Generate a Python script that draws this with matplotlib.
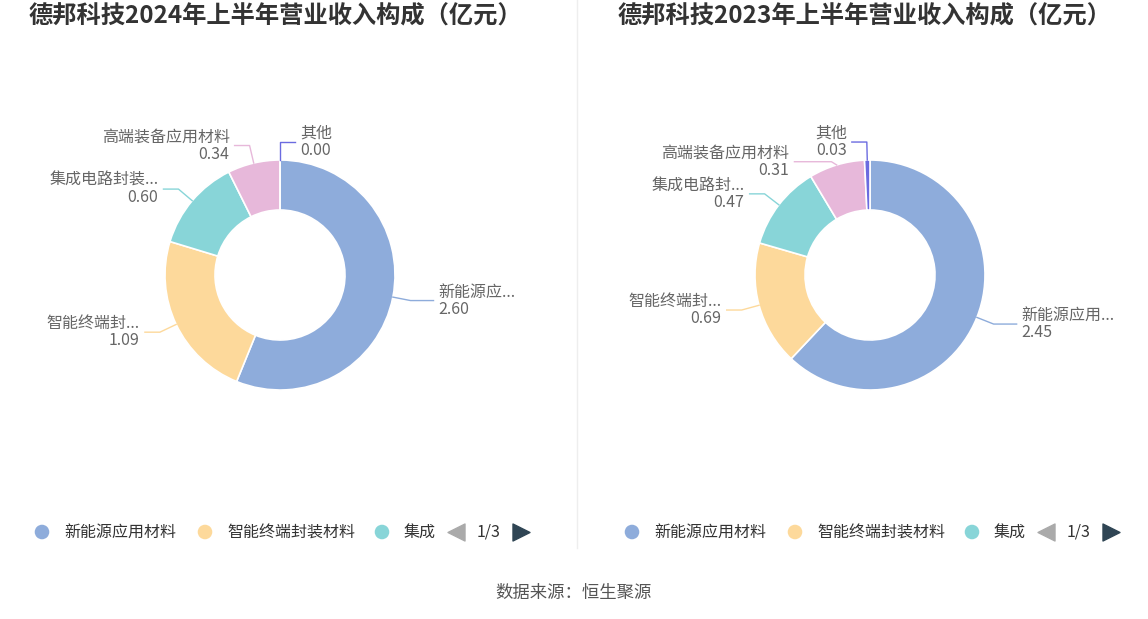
import matplotlib
matplotlib.use("Agg")
import matplotlib.pyplot as plt
import numpy as np

plt.rcParams['font.family'] = ['Noto Sans CJK SC', 'DejaVu Sans']

categories = ["新能源应用材料", "智能终端封装材料", "集成电路封装材料", "高端装备应用材料", "其他"]
short_labels = ["新能源应...", "智能终端封...", "集成电路封装...", "高端装备应用材料", "其他"]
short_labels_r = ["新能源应用...", "智能终端封...", "集成电路封...", "高端装备应用材料", "其他"]
values_2024 = [2.60, 1.09, 0.60, 0.34, 0.00]
values_2023 = [2.45, 0.69, 0.47, 0.31, 0.03]
titles = ["德邦科技2024年上半年营业收入构成（亿元）", "德邦科技2023年上半年营业收入构成（亿元）"]
colors = ["#8eacdb", "#fdd99b", "#88d5d8", "#e7b8da", "#6b6be0"]

W, H = 1148, 619
fig = plt.figure(figsize=(W/100, H/100), dpi=100)
ax = fig.add_axes([0, 0, 1, 1])
ax.set_xlim(0, W); ax.set_ylim(0, H); ax.axis('off')

def Y(y): return H - y

R, IN = 115, 65
# label-layout nudges (vertical px shift, extra horizontal length) to avoid overlap
nudge_l = [(0, 8), (0, 0), (0, 0), (0, 0), (0, 0)]
nudge_r = [(0, 8), (0, 0), (0, 0), (-14, 22), (0, 0)]
for k, (vals, labs, cx, title, nud) in enumerate([(values_2024, short_labels, 280, titles[0], nudge_l),
                                                   (values_2023, short_labels_r, 870, titles[1], nudge_r)]):
    cy = 275
    wedges, _ = ax.pie(vals, colors=colors, startangle=90, counterclock=False,
                       radius=R, center=(cx, Y(cy)),
                       wedgeprops=dict(width=R-IN, edgecolor='white', linewidth=1.2))
    for i, w in enumerate(wedges):
        th = np.deg2rad((w.theta1 + w.theta2) / 2)
        c, s = np.cos(th), np.sin(th)
        x1, y1 = cx + R*c, Y(cy) + R*s
        x2, y2 = cx + (R+18)*c, Y(cy) + (R+18)*s + nud[i][0]
        side = 1 if c >= -1e-6 else -1
        x3 = x2 + side*(15 + nud[i][1])
        ax.plot([x1, x2, x3], [y1, y2, y2], color=colors[i], lw=1)
        ha = 'left' if side > 0 else 'right'
        ax.text(x3 + side*5, y2, f"{labs[i]}\n{vals[i]:.2f}", ha=ha, va='center',
                fontsize=11.5, color='#666666', linespacing=1.0)
    ax.text(cx - 5, Y(17), title, ha='center', va='center', fontsize=17.5,
            fontweight='bold', color='#333333')
    off = 0 if k == 0 else 590
    lx = [42, 205, 382]
    for j in range(3):
        ax.scatter(lx[j]+off, Y(532), s=110, color=colors[j], edgecolors='none')
        ax.text(lx[j]+off+22, Y(532), categories[j] if j < 2 else "集成", ha='left',
                va='center', fontsize=11.5, color='#333333')
    ax.scatter(456+off, Y(532), marker='<', s=150, color='#aaaaaa')
    ax.text(489+off, Y(532), "1/3", ha='center', va='center', fontsize=11.5, color='#333333')
    ax.scatter(521+off, Y(532), marker='>', s=150, color='#2f4554')

ax.plot([577, 577], [Y(0), Y(548)], color='#eeeeee', lw=1)
ax.text(574, Y(593), "数据来源：恒生聚源", ha='center', va='center', fontsize=12.5, color='#555555')
ax.set_xlim(0, W); ax.set_ylim(0, H); ax.set_aspect('auto')
fig.savefig("out.png", dpi=100)
